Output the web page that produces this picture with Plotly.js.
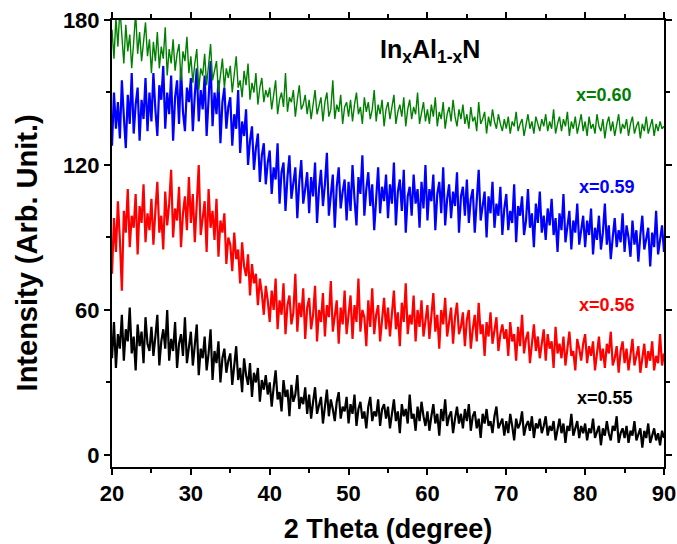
<!DOCTYPE html>
<html>
<head>
<meta charset="utf-8">
<script src="https://cdn.plot.ly/plotly-3.0.1.min.js"></script>
<style>html,body{margin:0;padding:0;background:#fff;}#chart{width:677px;height:544px;}</style>
</head>
<body>
<div id="chart"></div>
<script>
// 2-theta sampling of the digitised patterns (degrees)
const twoThetaStart = 20;
const twoThetaStep = 0.25;

const seriesLabels = ['x=0.55', 'x=0.56', 'x=0.59', 'x=0.60'];
const seriesColors = ['#000000', '#ff0000', '#0000ff', '#008000'];

// x = 0.55 (black)
const int055 = [
40,55,36,50,44,58,39,52,47,61,42,49,35,54,45,51,38,57,46,43,
53,41,49,58,37,47,52,44,60,39,48,43,55,36,46,50,41,57,38,45,
51,37,46,54,33,44,40,49,35,42,52,31,43,38,47,30,40,44,34,39,
42,29,37,45,31,36,26,40,33,29,38,24,34,30,36,22,31,27,33,25,
30,20,28,35,23,26,18,31,24,27,16,29,22,25,33,19,24,21,28,17,
25,15,22,28,17,21,24,13,20,27,16,23,19,14,22,26,15,20,18,24,
13,21,17,25,12,19,22,15,18,11,20,24,14,18,16,23,12,19,21,15,
20,11,17,23,14,18,9,21,16,19,13,25,15,17,10,20,14,22,16,12,
18,10,16,21,13,17,8,19,14,23,12,16,18,9,15,20,13,17,11,19,
14,21,10,16,18,11,15,7,17,13,19,12,14,9,16,20,11,13,15,8,
14,9,17,12,6,15,11,13,18,8,12,14,10,16,7,13,11,15,9,12,
16,8,12,10,14,6,11,15,9,13,5,12,10,17,8,11,14,7,12,9,
13,6,11,9,15,7,10,12,4,11,8,14,9,6,12,10,16,5,9,11,
7,12,5,10,8,14,6,9,11,3,10,7,13,5,8,11,6,9,4,10,
7
];

// x = 0.56 (red)
const int056 = [
75,98,84,105,89,68,101,92,110,86,99,94,108,83,103,96,112,88,100,93,
106,87,101,113,92,99,85,109,95,104,118,90,102,97,111,86,100,107,93,115,
96,108,88,103,120,91,99,105,84,110,94,101,89,106,82,97,92,100,79,90,
87,76,92,81,85,71,88,78,74,83,66,79,71,75,62,73,67,58,70,64,
55,68,60,73,52,64,58,71,50,62,66,54,59,75,51,63,57,69,48,61,
65,52,58,70,47,60,55,67,49,62,57,72,51,59,64,46,61,54,68,50,
59,66,48,62,55,73,51,60,57,45,64,53,69,50,58,62,47,56,65,52,
61,49,57,68,52,59,45,63,55,71,50,58,54,66,47,60,53,64,49,57,
62,48,56,67,51,58,44,60,54,65,49,55,61,46,57,63,50,53,59,45,
56,60,44,52,58,47,63,50,54,41,55,49,59,46,52,57,43,50,54,48,
52,41,55,47,50,39,53,45,58,42,48,51,38,46,54,43,49,40,47,52,
39,50,44,47,36,53,42,46,40,49,37,45,51,41,43,35,48,44,39,46,
50,38,45,41,47,35,43,49,39,44,36,46,42,51,37,40,45,34,43,47,
38,44,35,42,48,37,41,45,34,40,46,36,43,39,47,35,41,38,50,37,
42
];

// x = 0.59 (blue)
const int059 = [
128,150,135,146,131,155,140,127,149,137,158,133,145,152,130,147,139,156,134,150,
138,158,143,132,153,147,161,135,150,141,157,130,148,155,137,160,142,134,152,146,
156,134,149,160,138,151,143,157,132,147,163,136,150,141,155,129,146,152,135,144,
148,128,141,135,151,125,138,132,143,120,130,136,118,127,133,113,124,129,112,121,
126,108,119,114,129,104,117,121,101,115,124,106,112,119,98,113,122,104,110,117,
100,115,107,121,96,110,118,103,112,125,99,108,116,94,111,119,102,109,114,97,
113,101,120,106,95,115,108,124,99,110,117,103,112,93,107,119,100,111,105,116,
98,112,104,121,95,109,114,101,118,92,107,111,99,116,104,110,94,113,102,120,
97,110,105,116,93,108,113,100,119,95,106,112,98,109,103,117,92,107,111,99,
114,96,106,110,92,105,118,97,103,109,90,107,100,113,94,104,99,111,91,102,
108,93,101,96,112,88,103,99,107,91,97,110,94,100,86,104,96,109,92,99,
89,102,95,106,91,98,84,100,93,108,88,96,101,85,97,92,104,87,94,99,
86,97,91,102,83,94,89,99,85,92,104,87,95,81,90,98,86,93,88,100,
84,95,90,82,97,87,93,80,91,99,85,89,94,78,92,86,101,83,90,95,
84
];

// x = 0.60 (green)
const int060 = [
176,164,181,169,185,172,162,178,167,174,160,171,183,166,175,163,170,179,165,172,
158,171,163,175,160,169,164,177,157,168,162,172,159,166,170,155,167,163,173,158,
165,154,162,168,151,160,157,166,153,161,170,155,159,163,150,158,164,152,160,156,
161,150,157,165,152,155,148,159,153,162,147,154,150,158,145,152,156,146,151,148,
152,143,149,155,141,147,150,144,158,142,148,146,151,140,147,153,143,145,149,141,
147,139,145,151,141,144,148,138,146,150,140,143,155,139,145,142,149,137,144,146,
140,147,138,145,150,141,144,137,148,142,146,139,143,151,138,145,141,147,136,143,
146,139,144,149,137,142,145,140,148,136,143,147,139,144,141,150,137,142,146,138,
143,137,145,140,148,136,142,139,146,135,141,144,138,147,140,136,143,139,145,137,
141,135,144,138,140,134,146,137,139,142,133,140,136,143,138,135,141,137,134,139,
135,140,133,138,136,142,134,137,139,132,136,141,135,138,133,140,137,134,139,136,
141,134,138,135,143,133,137,140,134,139,136,142,132,138,135,140,133,137,141,134,
138,132,140,135,137,133,141,136,134,139,131,137,140,134,138,132,136,141,133,137,
135,139,132,137,140,133,136,138,131,137,134,140,133,136,139,132,137,134,138,135,
136
];

const xTickVals = [20, 30, 40, 50, 60, 70, 80, 90];
const yTickVals = [0, 60, 120, 180];

const allSeries = [int055, int056, int059, int060];
const lineWidths = [2.2, 2.2, 2.2, 1.4];
const fontFamily = 'Liberation Sans, Arial, sans-serif';

const traces = allSeries.map((vals, k) => ({
  type: 'scatter',
  mode: 'lines',
  name: seriesLabels[k],
  x: vals.map((_, i) => twoThetaStart + i * twoThetaStep),
  y: vals,
  line: {color: seriesColors[k], width: lineWidths[k]},
  hoverinfo: 'skip'
}));

// label anchor positions (in axis units)
const labelX = [82.5, 82.8, 82.8, 82.4];
const labelY = [23.5, 62, 111, 149];

const annotations = seriesLabels.map((t, k) => ({
  text: t, x: labelX[k], y: labelY[k], xref: 'x', yref: 'y',
  showarrow: false, xanchor: 'center', yanchor: 'middle',
  font: {family: fontFamily, size: 18, weight: 700, color: seriesColors[k]}
}));
annotations.push({
  text: 'In<sub>x</sub>Al<sub>1-x</sub>N', x: 60.3, y: 167, xref: 'x', yref: 'y',
  showarrow: false, xanchor: 'center', yanchor: 'middle',
  font: {family: fontFamily, size: 25, weight: 700, color: '#000'}
});
// y-axis title
annotations.push({
  text: 'Intensity (Arb. Unit.)', xref: 'paper', yref: 'paper',
  x: -0.154, y: 0.48, xanchor: 'center', yanchor: 'middle', textangle: -90,
  showarrow: false,
  font: {family: fontFamily, size: 29, weight: 700, color: '#000'}
});

const axisCommon = {
  showline: true, linewidth: 2, linecolor: '#000', mirror: 'ticks',
  ticks: 'outside', ticklen: 6, tickwidth: 2, tickcolor: '#000',
  showgrid: false, zeroline: false, ticklabeloverflow: 'allow',
  tickfont: {family: fontFamily, size: 22, weight: 700, color: '#000'}
};

const layout = {
  width: 677, height: 544,
  margin: {l: 112, r: 13, t: 20, b: 77},
  paper_bgcolor: '#fff', plot_bgcolor: '#fff',
  showlegend: false,
  xaxis: Object.assign({}, axisCommon, {
    range: [20, 90], tickvals: xTickVals,
    minor: {tickvals: [25, 35, 45, 55, 65, 75, 85], ticklen: 4, tickwidth: 2, tickcolor: '#000', ticks: 'outside'},
    title: {text: '2 Theta (degree)', standoff: 15, font: {family: fontFamily, size: 27, weight: 700, color: '#000'}}
  }),
  yaxis: Object.assign({}, axisCommon, {
    range: [-5, 180], tickvals: yTickVals,
    minor: {tickvals: [30, 90, 150], ticklen: 4, tickwidth: 2, tickcolor: '#000', ticks: 'outside'}
  }),
  annotations: annotations
};

Plotly.newPlot('chart', traces, layout, {displayModeBar: false, staticPlot: true});
</script>
</body>
</html>
